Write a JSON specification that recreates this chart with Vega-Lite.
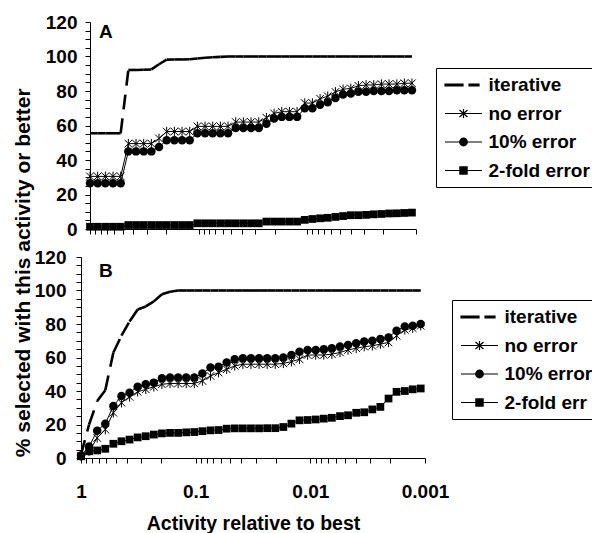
{
  "$schema": "https://vega.github.io/schema/vega-lite/v6.json",
  "padding": {"left": 13, "top": 13, "right": 0, "bottom": 0},
  "background": "white",
  "title": {"text": "% selected with this activity or better", "orient": "left", "anchor": "middle", "font": "Liberation Sans", "fontSize": 21, "fontWeight": "bold", "color": "black", "offset": 0},
  "spacing": 28,
  "columns": 1,
  "align": "all",
  "bounds": "flush",
  "center": true,
  "resolve": {"scale": {"x": "independent", "y": "independent", "color": "independent"}, "axis": {"x": "independent", "y": "independent"}, "legend": {"color": "independent"}},
  "config": {
    "view": {"stroke": null},
    "axis": {"labelFont": "Liberation Sans", "labelFontSize": 19, "labelFontWeight": "bold", "labelColor": "black", "titleFont": "Liberation Sans", "titleFontSize": 19.5, "titleFontWeight": "bold", "titleColor": "black", "domainColor": "black", "domainWidth": 1, "tickColor": "black", "tickWidth": 1, "grid": false},
    "legend": {"labelFont": "Liberation Sans", "labelFontSize": 19, "labelFontWeight": "bold", "labelColor": "black"}
  },
  "concat": [
    {
      "width": 326, "height": 207,
      "title": {"text": "A", "anchor": "start", "orient": "top", "frame": "group", "offset": -29, "dx": 9, "font": "Liberation Sans", "fontSize": 19, "fontWeight": "bold", "color": "black"},
      "data": {"name": "A"},
      "encoding": {
        "x": {"field": "x", "type": "quantitative", "scale": {"type": "log", "domain": [0.001, 1], "reverse": true, "nice": false},
          "axis": {"values": [1,0.9,0.8,0.7,0.6,0.5,0.4,0.3,0.2,0.1,0.09,0.08,0.07,0.06,0.05,0.04,0.03,0.02,0.01,0.009,0.008,0.007,0.006,0.005,0.004,0.003,0.002,0.001], "labels": false, "title": null, "tickSize": 5,
            "encode": {"ticks": {"update": {"y": {"signal": "abs(log(datum.value)/LN10 - round(log(datum.value)/LN10)) < 0.001 ? -5 : 0"}, "y2": {"signal": "abs(log(datum.value)/LN10 - round(log(datum.value)/LN10)) < 0.001 ? 5 : -4"}}}}}},
        "y": {"field": "y", "type": "quantitative", "scale": {"domain": [0, 120], "nice": false},
          "axis": {"values": [0,5,10,15,20,25,30,35,40,45,50,55,60,65,70,75,80,85,90,95,100,105,110,115,120], "labelExpr": "datum.value % 20 === 0 ? datum.label : ''", "title": null, "tickSize": 5, "labelPadding": 8,
            "encode": {"ticks": {"update": {"x": {"signal": "datum.value % 20 === 0 ? 5 : 0"}, "x2": {"signal": "datum.value % 20 === 0 ? -5 : 4"}}}}}}
      },
      "layer": [
        {
          "transform": [{"filter": "datum.series === 'iterative'"}, {"window": [{"op": "lead", "field": "x", "as": "xn"}, {"op": "lead", "field": "y", "as": "yn"}], "sort": [{"field": "x", "order": "descending"}]}, {"filter": "datum.xn != null"}],
          "mark": {"type": "rule", "strokeWidth": 2.6, "strokeDash": [15, 9], "color": "black"},
          "encoding": {"x2": {"field": "xn"}, "y2": {"field": "yn"}}
        },
        {
          "transform": [{"filter": "datum.series !== 'iterative'"}],
          "mark": {"type": "line", "strokeWidth": 1},
          "encoding": {"color": {"field": "series", "type": "nominal", "scale": {"domain": ["iterative", "no error", "10% error", "2-fold error"], "range": ["black", "black", "black", "black"]},
            "legend": {"orient": "none", "legendX": 346, "legendY": 46, "title": null, "padding": 6, "rowPadding": 7.5, "symbolSize": 400, "symbolOffset": 10.5, "labelOffset": 14, "symbolStrokeWidth": 1.2, "strokeColor": "black", "fillColor": "white",
              "encode": {"symbols": {"update": {"shape": {"signal": "datum.value === 'iterative' ? 'M-1.85,-0.09L-0.05,-0.09L-0.05,0.09L-1.85,0.09ZM0.55,-0.09L1.55,-0.09L1.55,0.09L0.55,0.09Z' : datum.value === 'no error' ? 'M-1.85,0L1.85,0M0,-0.45L0,0.45M-0.4,-0.35L0.4,0.35M-0.4,0.35L0.4,-0.35' : datum.value === '10% error' ? 'M-1.85,0L1.85,0M0.38,0A0.38,0.38,0,1,1,-0.38,0A0.38,0.38,0,1,1,0.38,0Z' : 'M-1.85,0L1.85,0M-0.36,-0.36L0.36,-0.36L0.36,0.36L-0.36,0.36Z'"}, "fill": {"value": "black"}, "stroke": {"value": "black"}, "strokeWidth": {"value": 1.2}, "size": {"value": 400}, "opacity": {"value": 1}}}}}}}
        },
        {
          "transform": [{"filter": "datum.series === '2-fold error'"}],
          "mark": {"type": "point", "shape": "square", "filled": true, "color": "black", "size": 60, "opacity": 1}
        },
        {
          "transform": [{"filter": "datum.series === '10% error'"}],
          "mark": {"type": "point", "shape": "circle", "filled": true, "color": "black", "size": 72, "opacity": 1}
        },
        {
          "transform": [{"filter": "datum.series === 'no error'"}],
          "mark": {"type": "point", "shape": "M0,-1L0,1M-0.8,-0.8L0.8,0.8M-0.8,0.8L0.8,-0.8", "filled": false, "stroke": "black", "strokeWidth": 1, "size": 90, "opacity": 1}
        }
      ]
    },
    {
      "width": 344, "height": 201,
      "title": {"text": "B", "anchor": "start", "orient": "top", "frame": "group", "offset": -33, "dx": 18, "font": "Liberation Sans", "fontSize": 19, "fontWeight": "bold", "color": "black"},
      "data": {"name": "B"},
      "encoding": {
        "x": {"field": "x", "type": "quantitative", "scale": {"type": "log", "domain": [0.001, 1], "reverse": true, "nice": false},
          "axis": {"values": [1,0.9,0.8,0.7,0.6,0.5,0.4,0.3,0.2,0.1,0.09,0.08,0.07,0.06,0.05,0.04,0.03,0.02,0.01,0.009,0.008,0.007,0.006,0.005,0.004,0.003,0.002,0.001], "format": "~g", "labelExpr": "abs(log(datum.value)/LN10 - round(log(datum.value)/LN10)) < 0.001 ? datum.label : ''", "labelFlush": false, "labelOverlap": false, "labelPadding": 19, "title": "Activity relative to best", "titlePadding": 13, "tickSize": 5,
            "encode": {"ticks": {"update": {"y": {"signal": "abs(log(datum.value)/LN10 - round(log(datum.value)/LN10)) < 0.001 ? -5 : 0"}, "y2": {"signal": "abs(log(datum.value)/LN10 - round(log(datum.value)/LN10)) < 0.001 ? 5 : -4"}}}}}},
        "y": {"field": "y", "type": "quantitative", "scale": {"domain": [0, 120], "nice": false},
          "axis": {"values": [0,5,10,15,20,25,30,35,40,45,50,55,60,65,70,75,80,85,90,95,100,105,110,115,120], "labelExpr": "datum.value % 20 === 0 ? datum.label : ''", "title": null, "tickSize": 5, "labelPadding": 10,
            "encode": {"ticks": {"update": {"x": {"signal": "datum.value % 20 === 0 ? 5 : 0"}, "x2": {"signal": "datum.value % 20 === 0 ? -5 : 4"}}}}}}
      },
      "layer": [
        {
          "transform": [{"filter": "datum.series === 'iterative'"}, {"window": [{"op": "lead", "field": "x", "as": "xn"}, {"op": "lead", "field": "y", "as": "yn"}], "sort": [{"field": "x", "order": "descending"}]}, {"filter": "datum.xn != null"}],
          "mark": {"type": "rule", "strokeWidth": 2.6, "strokeDash": [15, 9], "color": "black"},
          "encoding": {"x2": {"field": "xn"}, "y2": {"field": "yn"}}
        },
        {
          "transform": [{"filter": "datum.series !== 'iterative'"}],
          "mark": {"type": "line", "strokeWidth": 1},
          "encoding": {"color": {"field": "series", "type": "nominal", "scale": {"domain": ["iterative", "no error", "10% error", "2-fold error"], "range": ["black", "black", "black", "black"]},
            "legend": {"orient": "none", "legendX": 371, "legendY": 43, "title": null, "padding": 6, "rowPadding": 7.5, "symbolSize": 400, "symbolOffset": 10.5, "labelOffset": 14, "symbolStrokeWidth": 1.2, "strokeColor": "black", "fillColor": "white",
              "labelExpr": "datum.label === '2-fold error' ? '2-fold err' : datum.label",
              "encode": {"symbols": {"update": {"shape": {"signal": "datum.value === 'iterative' ? 'M-1.85,-0.09L-0.05,-0.09L-0.05,0.09L-1.85,0.09ZM0.55,-0.09L1.55,-0.09L1.55,0.09L0.55,0.09Z' : datum.value === 'no error' ? 'M-1.85,0L1.85,0M0,-0.45L0,0.45M-0.4,-0.35L0.4,0.35M-0.4,0.35L0.4,-0.35' : datum.value === '10% error' ? 'M-1.85,0L1.85,0M0.38,0A0.38,0.38,0,1,1,-0.38,0A0.38,0.38,0,1,1,0.38,0Z' : 'M-1.85,0L1.85,0M-0.36,-0.36L0.36,-0.36L0.36,0.36L-0.36,0.36Z'"}, "fill": {"value": "black"}, "stroke": {"value": "black"}, "strokeWidth": {"value": 1.2}, "size": {"value": 400}, "opacity": {"value": 1}}}}}}}
        },
        {
          "transform": [{"filter": "datum.series === '2-fold error'"}],
          "mark": {"type": "point", "shape": "square", "filled": true, "color": "black", "size": 60, "opacity": 1}
        },
        {
          "transform": [{"filter": "datum.series === 'no error'"}],
          "mark": {"type": "point", "shape": "M0,-1L0,1M-0.8,-0.8L0.8,0.8M-0.8,0.8L0.8,-0.8", "filled": false, "stroke": "black", "strokeWidth": 1, "size": 90, "opacity": 1}
        },
        {
          "transform": [{"filter": "datum.series === '10% error'"}],
          "mark": {"type": "point", "shape": "circle", "filled": true, "color": "black", "size": 72, "opacity": 1}
        }
      ]
    }
  ],
  "datasets": {
    "A": [
      {"series":"iterative","x":1,"y":55.5},{"series":"iterative","x":0.85,"y":55.5},{"series":"iterative","x":0.7225,"y":55.5},{"series":"iterative","x":0.6141,"y":55.5},{"series":"iterative","x":0.522,"y":55.5},
      {"series":"iterative","x":0.4437,"y":92.2},{"series":"iterative","x":0.3771,"y":92.2},{"series":"iterative","x":0.3206,"y":92.3},{"series":"iterative","x":0.2725,"y":92.5},{"series":"iterative","x":0.2316,"y":95.5},
      {"series":"iterative","x":0.1969,"y":98.2},{"series":"iterative","x":0.1673,"y":98.3},{"series":"iterative","x":0.1422,"y":98.3},{"series":"iterative","x":0.1209,"y":98.4},{"series":"iterative","x":0.1028,"y":98.8},
      {"series":"iterative","x":0.08735,"y":99.3},{"series":"iterative","x":0.07425,"y":99.6},{"series":"iterative","x":0.06311,"y":99.8},{"series":"iterative","x":0.05365,"y":100},{"series":"iterative","x":0.0456,"y":100},
      {"series":"iterative","x":0.03876,"y":100},{"series":"iterative","x":0.03295,"y":100},{"series":"iterative","x":0.028,"y":100},{"series":"iterative","x":0.0238,"y":100},{"series":"iterative","x":0.02023,"y":100},
      {"series":"iterative","x":0.0172,"y":100},{"series":"iterative","x":0.01462,"y":100},{"series":"iterative","x":0.01243,"y":100},{"series":"iterative","x":0.01056,"y":100},{"series":"iterative","x":0.00898,"y":100},
      {"series":"iterative","x":0.00763,"y":100},{"series":"iterative","x":0.00649,"y":100},{"series":"iterative","x":0.00551,"y":100},{"series":"iterative","x":0.00469,"y":100},{"series":"iterative","x":0.00398,"y":100},
      {"series":"iterative","x":0.00339,"y":100},{"series":"iterative","x":0.00288,"y":100},{"series":"iterative","x":0.00245,"y":100},{"series":"iterative","x":0.00208,"y":100},{"series":"iterative","x":0.00177,"y":100},
      {"series":"iterative","x":0.0015,"y":100},{"series":"iterative","x":0.00128,"y":100},{"series":"iterative","x":0.00109,"y":100},

      {"series":"no error","x":1,"y":30.5},{"series":"no error","x":0.85,"y":30.5},{"series":"no error","x":0.7225,"y":30.5},{"series":"no error","x":0.6141,"y":30.5},{"series":"no error","x":0.522,"y":30.5},
      {"series":"no error","x":0.4437,"y":49.5},{"series":"no error","x":0.3771,"y":49.5},{"series":"no error","x":0.3206,"y":49.5},{"series":"no error","x":0.2725,"y":49.5},{"series":"no error","x":0.2316,"y":52.5},
      {"series":"no error","x":0.1969,"y":56.5},{"series":"no error","x":0.1673,"y":56.5},{"series":"no error","x":0.1422,"y":56.5},{"series":"no error","x":0.1209,"y":56.5},{"series":"no error","x":0.1028,"y":59.5},
      {"series":"no error","x":0.08735,"y":59.5},{"series":"no error","x":0.07425,"y":59.5},{"series":"no error","x":0.06311,"y":59.5},{"series":"no error","x":0.05365,"y":59.5},{"series":"no error","x":0.0456,"y":62},
      {"series":"no error","x":0.03876,"y":62},{"series":"no error","x":0.03295,"y":62},{"series":"no error","x":0.028,"y":62},{"series":"no error","x":0.0238,"y":64.5},{"series":"no error","x":0.02023,"y":67},
      {"series":"no error","x":0.0172,"y":68},{"series":"no error","x":0.01462,"y":68},{"series":"no error","x":0.01243,"y":68},{"series":"no error","x":0.01056,"y":73},{"series":"no error","x":0.00898,"y":73},
      {"series":"no error","x":0.00763,"y":75.5},{"series":"no error","x":0.00649,"y":77},{"series":"no error","x":0.00551,"y":79.5},{"series":"no error","x":0.00469,"y":81},{"series":"no error","x":0.00398,"y":81.5},
      {"series":"no error","x":0.00339,"y":83},{"series":"no error","x":0.00288,"y":83.5},{"series":"no error","x":0.00245,"y":83.5},{"series":"no error","x":0.00208,"y":84},{"series":"no error","x":0.00177,"y":84},
      {"series":"no error","x":0.0015,"y":84},{"series":"no error","x":0.00128,"y":84.5},{"series":"no error","x":0.00109,"y":84.5},

      {"series":"10% error","x":1,"y":26.5},{"series":"10% error","x":0.85,"y":26.5},{"series":"10% error","x":0.7225,"y":26.5},{"series":"10% error","x":0.6141,"y":26.5},{"series":"10% error","x":0.522,"y":26.5},
      {"series":"10% error","x":0.4437,"y":45},{"series":"10% error","x":0.3771,"y":45},{"series":"10% error","x":0.3206,"y":45},{"series":"10% error","x":0.2725,"y":45},{"series":"10% error","x":0.2316,"y":47.5},
      {"series":"10% error","x":0.1969,"y":51.5},{"series":"10% error","x":0.1673,"y":51.5},{"series":"10% error","x":0.1422,"y":51.5},{"series":"10% error","x":0.1209,"y":51.5},{"series":"10% error","x":0.1028,"y":55.5},
      {"series":"10% error","x":0.08735,"y":55.5},{"series":"10% error","x":0.07425,"y":55.5},{"series":"10% error","x":0.06311,"y":55.5},{"series":"10% error","x":0.05365,"y":55.5},{"series":"10% error","x":0.0456,"y":58.5},
      {"series":"10% error","x":0.03876,"y":58.5},{"series":"10% error","x":0.03295,"y":58.5},{"series":"10% error","x":0.028,"y":58.5},{"series":"10% error","x":0.0238,"y":61},{"series":"10% error","x":0.02023,"y":64},
      {"series":"10% error","x":0.0172,"y":65},{"series":"10% error","x":0.01462,"y":65},{"series":"10% error","x":0.01243,"y":65},{"series":"10% error","x":0.01056,"y":70},{"series":"10% error","x":0.00898,"y":70},
      {"series":"10% error","x":0.00763,"y":72},{"series":"10% error","x":0.00649,"y":73.5},{"series":"10% error","x":0.00551,"y":76},{"series":"10% error","x":0.00469,"y":78},{"series":"10% error","x":0.00398,"y":78.5},
      {"series":"10% error","x":0.00339,"y":79.5},{"series":"10% error","x":0.00288,"y":79.5},{"series":"10% error","x":0.00245,"y":80},{"series":"10% error","x":0.00208,"y":80},{"series":"10% error","x":0.00177,"y":80},
      {"series":"10% error","x":0.0015,"y":80.5},{"series":"10% error","x":0.00128,"y":80.5},{"series":"10% error","x":0.00109,"y":80.5},

      {"series":"2-fold error","x":1,"y":1.3},{"series":"2-fold error","x":0.85,"y":1.3},{"series":"2-fold error","x":0.7225,"y":1.3},{"series":"2-fold error","x":0.6141,"y":1.3},{"series":"2-fold error","x":0.522,"y":1.3},
      {"series":"2-fold error","x":0.4437,"y":2.3},{"series":"2-fold error","x":0.3771,"y":2.3},{"series":"2-fold error","x":0.3206,"y":2.3},{"series":"2-fold error","x":0.2725,"y":2.3},{"series":"2-fold error","x":0.2316,"y":2.3},
      {"series":"2-fold error","x":0.1969,"y":2.3},{"series":"2-fold error","x":0.1673,"y":2.3},{"series":"2-fold error","x":0.1422,"y":2.3},{"series":"2-fold error","x":0.1209,"y":2.3},{"series":"2-fold error","x":0.1028,"y":3.3},
      {"series":"2-fold error","x":0.08735,"y":3.3},{"series":"2-fold error","x":0.07425,"y":3.3},{"series":"2-fold error","x":0.06311,"y":3.3},{"series":"2-fold error","x":0.05365,"y":3.3},{"series":"2-fold error","x":0.0456,"y":3.3},
      {"series":"2-fold error","x":0.03876,"y":3.3},{"series":"2-fold error","x":0.03295,"y":3.3},{"series":"2-fold error","x":0.028,"y":3.3},{"series":"2-fold error","x":0.0238,"y":4.3},{"series":"2-fold error","x":0.02023,"y":4.3},
      {"series":"2-fold error","x":0.0172,"y":4.3},{"series":"2-fold error","x":0.01462,"y":4.3},{"series":"2-fold error","x":0.01243,"y":4.3},{"series":"2-fold error","x":0.01056,"y":5.3},{"series":"2-fold error","x":0.00898,"y":5.8},
      {"series":"2-fold error","x":0.00763,"y":6.2},{"series":"2-fold error","x":0.00649,"y":6.5},{"series":"2-fold error","x":0.00551,"y":7},{"series":"2-fold error","x":0.00469,"y":7.5},{"series":"2-fold error","x":0.00398,"y":8},
      {"series":"2-fold error","x":0.00339,"y":8},{"series":"2-fold error","x":0.00288,"y":8.2},{"series":"2-fold error","x":0.00245,"y":8.5},{"series":"2-fold error","x":0.00208,"y":8.7},{"series":"2-fold error","x":0.00177,"y":9},
      {"series":"2-fold error","x":0.0015,"y":9.1},{"series":"2-fold error","x":0.00128,"y":9.3},{"series":"2-fold error","x":0.00109,"y":9.5}
    ],
    "B": [
      {"series":"iterative","x":1,"y":2},{"series":"iterative","x":0.85,"y":20},{"series":"iterative","x":0.7225,"y":34},{"series":"iterative","x":0.6141,"y":40.5},{"series":"iterative","x":0.522,"y":63},
      {"series":"iterative","x":0.4437,"y":73},{"series":"iterative","x":0.3771,"y":81.5},{"series":"iterative","x":0.3206,"y":88.7},{"series":"iterative","x":0.2725,"y":90.5},{"series":"iterative","x":0.2316,"y":93.5},
      {"series":"iterative","x":0.1969,"y":97.8},{"series":"iterative","x":0.1673,"y":99.3},{"series":"iterative","x":0.1422,"y":100},{"series":"iterative","x":0.1209,"y":100},{"series":"iterative","x":0.1028,"y":100},
      {"series":"iterative","x":0.08735,"y":100},{"series":"iterative","x":0.07425,"y":100},{"series":"iterative","x":0.06311,"y":100},{"series":"iterative","x":0.05365,"y":100},{"series":"iterative","x":0.0456,"y":100},
      {"series":"iterative","x":0.03876,"y":100},{"series":"iterative","x":0.03295,"y":100},{"series":"iterative","x":0.028,"y":100},{"series":"iterative","x":0.0238,"y":100},{"series":"iterative","x":0.02023,"y":100},
      {"series":"iterative","x":0.0172,"y":100},{"series":"iterative","x":0.01462,"y":100},{"series":"iterative","x":0.01243,"y":100},{"series":"iterative","x":0.01056,"y":100},{"series":"iterative","x":0.00898,"y":100},
      {"series":"iterative","x":0.00763,"y":100},{"series":"iterative","x":0.00649,"y":100},{"series":"iterative","x":0.00551,"y":100},{"series":"iterative","x":0.00469,"y":100},{"series":"iterative","x":0.00398,"y":100},
      {"series":"iterative","x":0.00339,"y":100},{"series":"iterative","x":0.00288,"y":100},{"series":"iterative","x":0.00245,"y":100},{"series":"iterative","x":0.00208,"y":100},{"series":"iterative","x":0.00177,"y":100},
      {"series":"iterative","x":0.0015,"y":100},{"series":"iterative","x":0.00128,"y":100},{"series":"iterative","x":0.00109,"y":100},

      {"series":"no error","x":1,"y":1},{"series":"no error","x":0.85,"y":4},{"series":"no error","x":0.7225,"y":12},{"series":"no error","x":0.6141,"y":17},{"series":"no error","x":0.522,"y":27},
      {"series":"no error","x":0.4437,"y":33},{"series":"no error","x":0.3771,"y":36.5},{"series":"no error","x":0.3206,"y":39.5},{"series":"no error","x":0.2725,"y":41},{"series":"no error","x":0.2316,"y":42.5},
      {"series":"no error","x":0.1969,"y":44},{"series":"no error","x":0.1673,"y":44.5},{"series":"no error","x":0.1422,"y":44.5},{"series":"no error","x":0.1209,"y":44.5},{"series":"no error","x":0.1028,"y":44.5},
      {"series":"no error","x":0.08735,"y":46},{"series":"no error","x":0.07425,"y":49},{"series":"no error","x":0.06311,"y":51},{"series":"no error","x":0.05365,"y":53},{"series":"no error","x":0.0456,"y":55},
      {"series":"no error","x":0.03876,"y":56},{"series":"no error","x":0.03295,"y":56},{"series":"no error","x":0.028,"y":56},{"series":"no error","x":0.0238,"y":56},{"series":"no error","x":0.02023,"y":56},
      {"series":"no error","x":0.0172,"y":56.5},{"series":"no error","x":0.01462,"y":57.5},{"series":"no error","x":0.01243,"y":59},{"series":"no error","x":0.01056,"y":61.5},{"series":"no error","x":0.00898,"y":61.5},
      {"series":"no error","x":0.00763,"y":61.5},{"series":"no error","x":0.00649,"y":62},{"series":"no error","x":0.00551,"y":63},{"series":"no error","x":0.00469,"y":64.5},{"series":"no error","x":0.00398,"y":65.5},
      {"series":"no error","x":0.00339,"y":66.5},{"series":"no error","x":0.00288,"y":67},{"series":"no error","x":0.00245,"y":68},{"series":"no error","x":0.00208,"y":69},{"series":"no error","x":0.00177,"y":73},
      {"series":"no error","x":0.0015,"y":76.5},{"series":"no error","x":0.00128,"y":77.5},{"series":"no error","x":0.00109,"y":79},

      {"series":"10% error","x":1,"y":1.5},{"series":"10% error","x":0.85,"y":6.8},{"series":"10% error","x":0.7225,"y":16.3},{"series":"10% error","x":0.6141,"y":20.5},{"series":"10% error","x":0.522,"y":31},
      {"series":"10% error","x":0.4437,"y":37},{"series":"10% error","x":0.3771,"y":39},{"series":"10% error","x":0.3206,"y":42.6},{"series":"10% error","x":0.2725,"y":44},{"series":"10% error","x":0.2316,"y":45},
      {"series":"10% error","x":0.1969,"y":47.6},{"series":"10% error","x":0.1673,"y":48},{"series":"10% error","x":0.1422,"y":48},{"series":"10% error","x":0.1209,"y":48},{"series":"10% error","x":0.1028,"y":48},
      {"series":"10% error","x":0.08735,"y":50.5},{"series":"10% error","x":0.07425,"y":54},{"series":"10% error","x":0.06311,"y":54.5},{"series":"10% error","x":0.05365,"y":57},{"series":"10% error","x":0.0456,"y":59},
      {"series":"10% error","x":0.03876,"y":59.5},{"series":"10% error","x":0.03295,"y":59.5},{"series":"10% error","x":0.028,"y":59.5},{"series":"10% error","x":0.0238,"y":59.5},{"series":"10% error","x":0.02023,"y":59.5},
      {"series":"10% error","x":0.0172,"y":60},{"series":"10% error","x":0.01462,"y":61.5},{"series":"10% error","x":0.01243,"y":63.5},{"series":"10% error","x":0.01056,"y":64.5},{"series":"10% error","x":0.00898,"y":64.5},
      {"series":"10% error","x":0.00763,"y":65},{"series":"10% error","x":0.00649,"y":65.5},{"series":"10% error","x":0.00551,"y":66.5},{"series":"10% error","x":0.00469,"y":67.5},{"series":"10% error","x":0.00398,"y":68.5},
      {"series":"10% error","x":0.00339,"y":69.5},{"series":"10% error","x":0.00288,"y":70},{"series":"10% error","x":0.00245,"y":71},{"series":"10% error","x":0.00208,"y":72},{"series":"10% error","x":0.00177,"y":76},
      {"series":"10% error","x":0.0015,"y":78.5},{"series":"10% error","x":0.00128,"y":79},{"series":"10% error","x":0.00109,"y":80},

      {"series":"2-fold error","x":1,"y":1},{"series":"2-fold error","x":0.85,"y":4},{"series":"2-fold error","x":0.7225,"y":4.5},{"series":"2-fold error","x":0.6141,"y":5.5},{"series":"2-fold error","x":0.522,"y":8.5},
      {"series":"2-fold error","x":0.4437,"y":10},{"series":"2-fold error","x":0.3771,"y":11},{"series":"2-fold error","x":0.3206,"y":12.3},{"series":"2-fold error","x":0.2725,"y":13},{"series":"2-fold error","x":0.2316,"y":14},
      {"series":"2-fold error","x":0.1969,"y":14.7},{"series":"2-fold error","x":0.1673,"y":15},{"series":"2-fold error","x":0.1422,"y":15},{"series":"2-fold error","x":0.1209,"y":15.3},{"series":"2-fold error","x":0.1028,"y":15.5},
      {"series":"2-fold error","x":0.08735,"y":16},{"series":"2-fold error","x":0.07425,"y":16.5},{"series":"2-fold error","x":0.06311,"y":16.7},{"series":"2-fold error","x":0.05365,"y":17.5},{"series":"2-fold error","x":0.0456,"y":17.7},
      {"series":"2-fold error","x":0.03876,"y":17.7},{"series":"2-fold error","x":0.03295,"y":17.7},{"series":"2-fold error","x":0.028,"y":17.7},{"series":"2-fold error","x":0.0238,"y":17.8},{"series":"2-fold error","x":0.02023,"y":17.8},
      {"series":"2-fold error","x":0.0172,"y":18.5},{"series":"2-fold error","x":0.01462,"y":20.5},{"series":"2-fold error","x":0.01243,"y":22.5},{"series":"2-fold error","x":0.01056,"y":22.7},{"series":"2-fold error","x":0.00898,"y":23},
      {"series":"2-fold error","x":0.00763,"y":23.5},{"series":"2-fold error","x":0.00649,"y":24},{"series":"2-fold error","x":0.00551,"y":25},{"series":"2-fold error","x":0.00469,"y":25.5},{"series":"2-fold error","x":0.00398,"y":27},
      {"series":"2-fold error","x":0.00339,"y":27.3},{"series":"2-fold error","x":0.00288,"y":29},{"series":"2-fold error","x":0.00245,"y":30.5},{"series":"2-fold error","x":0.00208,"y":35.5},{"series":"2-fold error","x":0.00177,"y":39.5},
      {"series":"2-fold error","x":0.0015,"y":40},{"series":"2-fold error","x":0.00128,"y":41},{"series":"2-fold error","x":0.00109,"y":41.5}
    ]
  }
}
